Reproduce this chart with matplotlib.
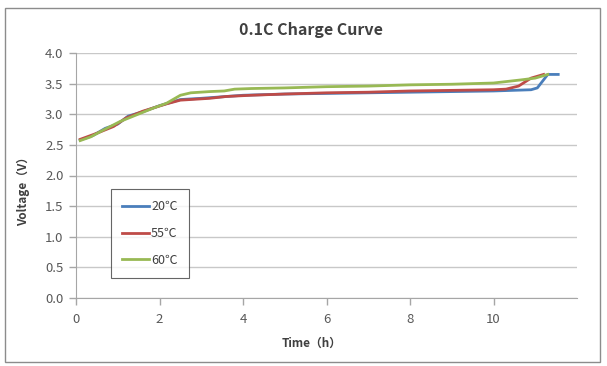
import matplotlib
matplotlib.use("Agg")
import matplotlib.pyplot as plt
from matplotlib.patches import Rectangle

plt.rcParams["font.family"] = ["Noto Sans CJK SC", "DejaVu Sans"]

# 20℃
t_20 = [0.1, 0.4, 0.7, 1.0, 1.25, 1.6, 2.0, 2.5, 3.0, 4.0, 5.0, 6.0, 7.0, 8.0, 9.0, 10.0, 10.9, 11.05, 11.3, 11.55]
v_20 = [2.58, 2.65, 2.77, 2.84, 2.97, 3.04, 3.14, 3.24, 3.26, 3.31, 3.33, 3.34, 3.35, 3.36, 3.37, 3.38, 3.40, 3.43, 3.65, 3.65]

# 55℃
t_55 = [0.1, 0.5, 0.9, 1.2, 1.6, 2.17, 2.5, 3.2, 3.6, 4.2, 5.0, 6.0, 7.0, 8.0, 9.0, 10.0, 10.3, 10.6, 10.9, 11.2]
v_55 = [2.59, 2.69, 2.80, 2.94, 3.05, 3.17, 3.23, 3.26, 3.29, 3.31, 3.33, 3.35, 3.36, 3.38, 3.39, 3.40, 3.41, 3.46, 3.59, 3.65]

# 60℃
t_60 = [0.1, 0.35, 0.65, 1.05, 1.45, 1.85, 2.17, 2.5, 2.75, 3.2, 3.55, 3.8, 4.2, 5.0, 6.0, 7.0, 8.0, 9.0, 10.0, 10.65, 11.0, 11.3]
v_60 = [2.57, 2.63, 2.74, 2.88, 2.99, 3.10, 3.18, 3.31, 3.35, 3.37, 3.38, 3.41, 3.42, 3.43, 3.45, 3.46, 3.48, 3.49, 3.51, 3.56, 3.59, 3.65]

series = [
    ("20℃", t_20, v_20, "#4a7ebb"),
    ("55℃", t_55, v_55, "#be4b48"),
    ("60℃", t_60, v_60, "#98b954"),
]

x_ticks = [0, 2, 4, 6, 8, 10]
y_ticks = [0.0, 0.5, 1.0, 1.5, 2.0, 2.5, 3.0, 3.5, 4.0]

W, H = 607, 366
fig = plt.figure(figsize=(W / 100, H / 100), dpi=100)
fig.patches.append(Rectangle((5 / W, 1 - 362 / H), 595 / W, 354 / H, transform=fig.transFigure,
                             fill=False, edgecolor="#8c8c8c", linewidth=1.0))

ax = fig.add_axes([76 / W, 1 - 298 / H, 501 / W, 245 / H])
for name, t, v, c in series:
    ax.plot(t, v, color=c, linewidth=2.0, label=name)

ax.set_xlim(0, 12)
ax.set_ylim(0, 4.0)
ax.set_xticks(x_ticks)
ax.set_yticks(y_ticks)
ax.set_yticklabels([f"{y:.1f}" for y in y_ticks])
ax.grid(axis="y", color="#c8c8c8", linewidth=1.0)
ax.set_axisbelow(True)
for s in ["top", "right"]:
    ax.spines[s].set_visible(False)
for s in ["left", "bottom"]:
    ax.spines[s].set_color("#a6a6a6")
ax.tick_params(colors="#a6a6a6", labelcolor="#595959", labelsize=9.5, length=5, width=1.0)
ax.tick_params(axis="y", pad=4)
ax.tick_params(axis="x", pad=6)

fig.text(311 / W, 1 - 30 / H, "0.1C Charge Curve", ha="center", va="center",
         fontsize=11.5, fontweight="bold", color="#404040")
fig.text(312 / W, 1 - 343 / H, "Time（h）", ha="center", va="center",
         fontsize=8.5, fontweight="bold", color="#404040")
fig.text(23 / W, 1 - 188 / H, "Voltage（V）", ha="center", va="center", rotation=90,
         fontsize=8.5, fontweight="bold", color="#404040")

leg = ax.legend(loc="upper left", bbox_to_anchor=((111 - 76) / 501, (298 - 189) / 245),
                borderaxespad=0, frameon=True, fancybox=False, fontsize=9,
                handlelength=2.1, handletextpad=0.2, labelspacing=1.1, borderpad=0.9,
                labelcolor="#404040")
leg.get_frame().set_edgecolor("#404040")
leg.get_frame().set_linewidth(0.8)

fig.savefig("out.png", dpi=100)
